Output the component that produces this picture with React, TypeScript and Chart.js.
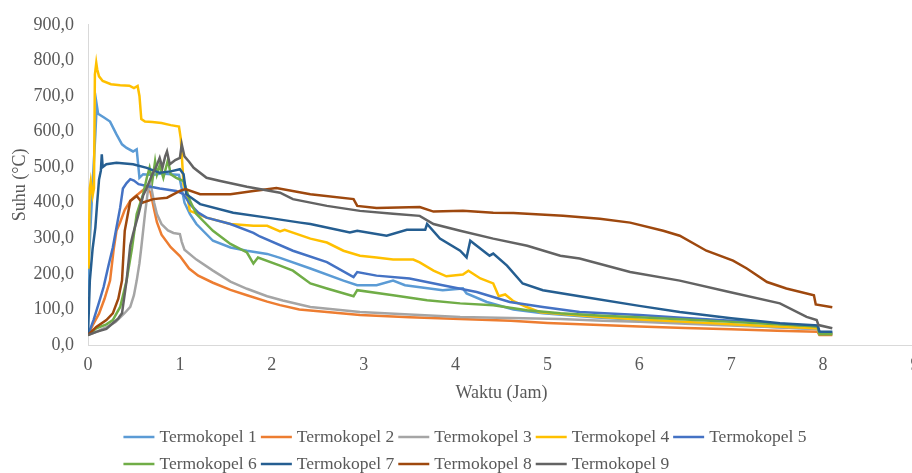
import { useEffect, useRef } from "react";
import { Chart, registerables } from "chart.js";

Chart.register(...registerables);

const seriesNames = [
  "Termokopel 1",
  "Termokopel 2",
  "Termokopel 3",
  "Termokopel 4",
  "Termokopel 5",
  "Termokopel 6",
  "Termokopel 7",
  "Termokopel 8",
  "Termokopel 9",
];
const seriesColors = [
  "#5B9BD5",
  "#ED7D31",
  "#A5A5A5",
  "#FFC000",
  "#4472C4",
  "#70AD47",
  "#255E91",
  "#9E480E",
  "#636363",
];

// Termokopel 1
const t1 = [0, 0.005, 0.02, 0.05, 0.08, 0.095, 0.11, 0.17, 0.24, 0.31, 0.37, 0.42, 0.49, 0.53, 0.56, 0.6, 0.7, 0.8, 0.9, 0.99, 1.02, 1.05, 1.11, 1.18, 1.36, 1.55, 1.73, 1.95, 2.09, 2.42, 2.78, 2.93, 3.14, 3.32, 3.45, 3.86, 4.08, 4.12, 4.34, 4.63, 4.95, 5.5, 6.0, 6.5, 7.0, 7.5, 7.94, 7.96, 8.1];
const v1 = [145, 218, 293, 450, 592, 675, 650, 640, 628, 592, 564, 554, 544, 550, 470, 480, 478, 482, 480, 478, 440, 400, 368, 340, 293, 274, 265, 256, 245, 215, 181, 168, 168, 181, 168, 154, 159, 145, 121, 100, 89, 78, 70, 64, 57, 50, 45, 30, 30];

// Termokopel 2
const t2 = [0, 0.05, 0.12, 0.18, 0.24, 0.28, 0.31, 0.35, 0.4, 0.46, 0.5, 0.55, 0.62, 0.68, 0.72, 0.75, 0.8, 0.9, 1.0, 1.1, 1.2, 1.36, 1.55, 1.73, 1.95, 2.09, 2.3, 2.42, 2.96, 3.5, 4.05, 4.6, 5.0, 5.5, 6.0, 6.5, 7.0, 7.5, 7.94, 7.96, 8.1];
const v2 = [28, 55, 88, 130, 181, 270, 321, 345, 380, 405, 415, 425, 440, 430, 380, 345, 310, 275, 250, 215, 195, 175, 155, 140, 122, 112, 100, 97, 84, 78, 73, 68, 62, 57, 52, 48, 44, 40, 37, 28, 28];

// Termokopel 3
const t3 = [0, 0.1, 0.2, 0.3, 0.4, 0.46, 0.5, 0.53, 0.56, 0.58, 0.62, 0.65, 0.68, 0.72, 0.75, 0.8, 0.87, 0.93, 1.0, 1.02, 1.05, 1.18, 1.36, 1.55, 1.73, 1.95, 2.12, 2.42, 2.96, 3.5, 4.05, 4.6, 5.14, 5.6, 6.0, 6.5, 7.0, 7.5, 7.94, 7.96, 8.1];
const v3 = [28, 38, 50, 65, 90, 107, 140, 181, 230, 274, 368, 430, 455, 400, 368, 340, 322, 315, 312, 290, 268, 240, 209, 178, 158, 137, 125, 107, 93, 86, 79, 76, 73, 68, 65, 60, 55, 50, 45, 32, 32];

// Termokopel 4
const t4 = [0, 0.01, 0.02, 0.03, 0.05, 0.065, 0.075, 0.09, 0.1, 0.12, 0.16, 0.25, 0.35, 0.45, 0.5, 0.54, 0.56, 0.58, 0.62, 0.7, 0.8, 0.9, 0.99, 1.01, 1.04, 1.07, 1.11, 1.29, 1.55, 1.8, 1.95, 2.09, 2.14, 2.42, 2.6, 2.78, 2.96, 3.14, 3.32, 3.54, 3.61, 3.76, 3.9, 4.08, 4.14, 4.27, 4.41, 4.47, 4.54, 4.63, 4.78, 4.92, 5.5, 6.0, 6.5, 7.0, 7.5, 7.94, 7.96, 8.1];
const v4 = [218, 300, 440, 460, 420, 440, 760, 793, 775, 755, 742, 733, 730, 729, 722, 728, 700, 635, 628, 627, 624, 618, 614, 580, 450, 430, 377, 358, 340, 335, 335, 319, 324, 299, 288, 265, 251, 246, 240, 240, 232, 209, 193, 198, 209, 187, 173, 137, 142, 123, 106, 92, 80, 72, 65, 58, 52, 47, 32, 32];

// Termokopel 5
const t5 = [0, 0.06, 0.12, 0.17, 0.22, 0.27, 0.31, 0.35, 0.38, 0.42, 0.46, 0.5, 0.55, 0.64, 0.78, 0.96, 1.04, 1.11, 1.2, 1.29, 1.55, 1.8, 1.87, 2.23, 2.6, 2.89, 2.93, 3.14, 3.5, 3.86, 4.23, 4.59, 4.95, 5.35, 6.0, 6.5, 7.0, 7.5, 7.94, 7.96, 8.1];
const v5 = [28, 70, 120, 163, 220, 274, 330, 386, 440, 455, 466, 462, 452, 447, 440, 433, 424, 396, 372, 358, 340, 315, 305, 265, 233, 191, 205, 195, 187, 168, 149, 121, 107, 93, 84, 76, 68, 60, 53, 35, 35];

// Termokopel 6
const t6 = [0, 0.09, 0.2, 0.27, 0.35, 0.42, 0.48, 0.53, 0.6, 0.64, 0.67, 0.7, 0.73, 0.75, 0.78, 0.82, 0.87, 0.9, 0.96, 1.04, 1.11, 1.18, 1.36, 1.55, 1.73, 1.8, 1.85, 2.09, 2.23, 2.42, 2.6, 2.89, 2.93, 3.32, 3.69, 4.05, 4.41, 4.78, 5.14, 5.6, 6.0, 6.5, 7.0, 7.5, 7.94, 7.96, 8.1];
const v6 = [28, 47, 58, 70, 107, 181, 274, 368, 424, 470, 498, 461, 516, 480, 505, 470, 520, 480, 470, 461, 405, 368, 321, 284, 260, 229, 246, 223, 209, 173, 159, 137, 154, 140, 126, 117, 112, 98, 89, 82, 78, 72, 65, 58, 52, 30, 30];

// Termokopel 7
const t7 = [0, 0.02, 0.05, 0.08, 0.1, 0.12, 0.14, 0.15, 0.16, 0.2, 0.31, 0.49, 0.64, 0.78, 0.9, 1.0, 1.04, 1.07, 1.22, 1.58, 1.95, 2.31, 2.42, 2.85, 2.93, 3.25, 3.47, 3.67, 3.69, 3.83, 4.05, 4.12, 4.16, 4.37, 4.41, 4.56, 4.73, 4.95, 5.35, 6.0, 6.44, 7.0, 7.53, 7.94, 7.96, 8.1];
const v7 = [28, 181, 270, 330, 400, 465, 490, 536, 500, 508, 512, 508, 498, 484, 488, 494, 480, 424, 396, 372, 358, 344, 340, 316, 321, 307, 324, 324, 340, 299, 265, 246, 293, 251, 257, 223, 173, 154, 137, 110, 93, 75, 61, 55, 38, 37];

// Termokopel 8
const t8 = [0, 0.09, 0.2, 0.27, 0.33, 0.37, 0.4, 0.46, 0.53, 0.59, 0.71, 0.86, 1.0, 1.06, 1.22, 1.55, 1.8, 1.95, 2.05, 2.42, 2.89, 2.93, 3.14, 3.61, 3.76, 4.08, 4.41, 4.63, 5.17, 5.57, 5.9, 6.26, 6.44, 6.73, 7.02, 7.17, 7.39, 7.6, 7.9, 7.92, 8.1];
const v8 = [28, 51, 70, 89, 130, 181, 321, 405, 419, 400, 410, 414, 433, 438, 424, 424, 433, 438, 441, 424, 410, 391, 385, 388, 375, 377, 372, 371, 363, 355, 344, 321, 307, 265, 237, 215, 177, 159, 140, 114, 106];

// Termokopel 9
const t9 = [0, 0.09, 0.2, 0.27, 0.33, 0.37, 0.42, 0.46, 0.49, 0.55, 0.6, 0.64, 0.7, 0.74, 0.78, 0.81, 0.84, 0.86, 0.89, 0.95, 1.0, 1.02, 1.05, 1.1, 1.15, 1.29, 1.44, 1.73, 2.09, 2.23, 2.6, 2.96, 3.32, 3.61, 3.76, 4.05, 4.41, 4.78, 5.14, 5.35, 5.9, 6.44, 6.98, 7.53, 7.82, 7.93, 7.95, 8.1];
const v9 = [28, 37, 45, 61, 75, 89, 181, 280, 312, 368, 420, 442, 480, 500, 526, 498, 530, 544, 508, 520, 526, 564, 530, 515, 498, 470, 461, 445, 428, 410, 391, 377, 369, 363, 340, 321, 299, 279, 251, 243, 205, 181, 149, 117, 79, 70, 56, 47];

const seriesTimes = [t1, t2, t3, t4, t5, t6, t7, t8, t9];
const seriesValues = [v1, v2, v3, v4, v5, v6, v7, v8, v9];

const xMin = 0;
const xMax = 9;
const xStep = 1;
const yMin = 0;
const yMax = 900;
const yStep = 100;
const xTitle = "Waktu (Jam)";
const yTitle = "Suhu (°C)";
const legendPerRow = 5;

const FONT = '"Liberation Serif", "Times New Roman", serif';
const TEXT = "#595959";
const AXIS = "#D9D9D9";

const legendPlugin = {
  id: "excelLegend",
  afterDraw(chart: any) {
    const ctx = chart.ctx as CanvasRenderingContext2D;
    const ds = chart.data.datasets;
    ctx.save();
    ctx.font = `17.5px ${FONT}`;
    ctx.textBaseline = "middle";
    ctx.textAlign = "left";
    const lineLen = 31;
    const gapA = 5;
    const gapB = 4;
    const widths = ds.map(
      (d: any) => lineLen + gapA + ctx.measureText(d.label).width
    );
    const firstRow = widths.slice(0, legendPerRow);
    const rowWidth =
      firstRow.reduce((a: number, b: number) => a + b, 0) +
      gapB * (firstRow.length - 1);
    const startX = chart.width / 2 - rowWidth / 2;
    const firstY = chart.chartArea.bottom + 92;
    const rowGap = 27;
    let x = startX;
    ds.forEach((d: any, i: number) => {
      const row = Math.floor(i / legendPerRow);
      if (i % legendPerRow === 0) x = startX;
      const y = firstY + row * rowGap;
      ctx.strokeStyle = d.borderColor;
      ctx.lineWidth = 2.5;
      ctx.beginPath();
      ctx.moveTo(x, y);
      ctx.lineTo(x + lineLen, y);
      ctx.stroke();
      ctx.fillStyle = TEXT;
      ctx.fillText(d.label, x + lineLen + gapA, y);
      x += widths[i] + gapB;
    });
    ctx.restore();
  },
};

export default function App() {
  const ref = useRef<HTMLCanvasElement | null>(null);

  useEffect(() => {
    if (!ref.current) return;
    const datasets = seriesNames.map((name, i) => ({
      label: name,
      data: seriesTimes[i].map((t, j) => ({ x: t, y: seriesValues[i][j] })),
      borderColor: seriesColors[i],
      backgroundColor: seriesColors[i],
      borderWidth: 2.5,
      pointRadius: 0,
      pointHoverRadius: 0,
      tension: 0,
      fill: false,
      order: seriesNames.length - i,
    }));
    const chart = new Chart(ref.current, {
      type: "line",
      data: { datasets },
      plugins: [legendPlugin],
      options: {
        animation: false,
        responsive: false,
        devicePixelRatio: 1,
        parsing: true,
        layout: { padding: { top: 23, right: 15, bottom: 68, left: 0 } },
        plugins: {
          legend: { display: false },
          tooltip: { enabled: false },
        },
        scales: {
          x: {
            type: "linear",
            min: xMin,
            max: xMax,
            grid: { display: false, drawTicks: false },
            border: { display: true, color: AXIS, width: 1 },
            ticks: {
              stepSize: xStep,
              color: TEXT,
              padding: 9,
              font: { family: FONT, size: 18 },
              callback: (v: any) => String(v),
            },
            title: {
              display: true,
              text: xTitle,
              color: TEXT,
              font: { family: FONT, size: 18 },
              padding: { top: 0, bottom: 1 },
            },
            afterFit: (s: any) => {
              s.height = 60;
            },
          },
          y: {
            type: "linear",
            min: yMin,
            max: yMax,
            grid: { display: false, drawTicks: false },
            border: { display: true, color: AXIS, width: 1 },
            ticks: {
              stepSize: yStep,
              color: TEXT,
              padding: 14,
              font: { family: FONT, size: 18 },
              callback: (v: any) => Number(v).toFixed(1).replace(".", ","),
            },
            title: {
              display: true,
              text: yTitle,
              color: TEXT,
              font: { family: FONT, size: 18 },
              padding: { top: 9, bottom: 0 },
            },
            afterFit: (s: any) => {
              s.width = 88;
            },
          },
        },
      },
    });
    return () => chart.destroy();
  }, []);

  return (
    <div
      style={{
        position: "absolute",
        left: 0,
        top: 0,
        width: 912,
        height: 473,
        overflow: "hidden",
        background: "#ffffff",
      }}
    >
      <canvas
        ref={ref}
        width={930}
        height={473}
        style={{ display: "block", width: 930, height: 473 }}
      />
    </div>
  );
}
